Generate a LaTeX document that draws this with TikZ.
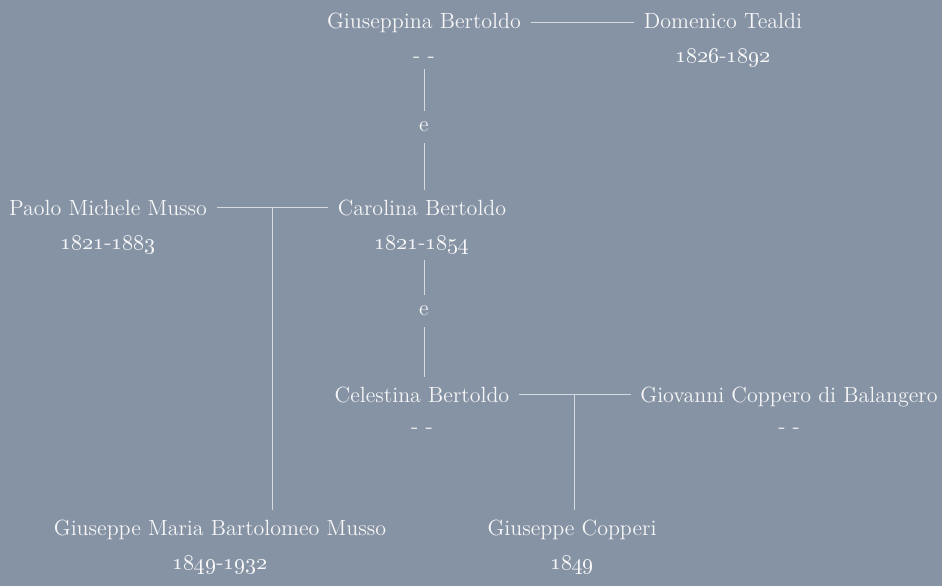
\documentclass[tikz,border=0pt]{standalone}
\usepackage{tikz}

\definecolor{bgcol}{RGB}{134,147,165}
\definecolor{txtcol}{RGB}{246,246,246}
\definecolor{linecol}{RGB}{214,219,226}
\newcommand{\yrs}[2]{\oldstylenums{#1}-\oldstylenums{#2}}

\begin{document}
\begin{tikzpicture}[x=0.5pt, y=-0.5pt,
  every node/.style={text=txtcol, font=\fontsize{11}{13}\selectfont},
  person/.style={anchor=base, outer sep=1.5pt},
  dates/.style={anchor=base},
  wed/.style={minimum height=16pt, inner sep=0pt},
  tie/.style={draw=linecol, line width=0.5pt}]
\fill[bgcol] (0,0) rectangle (942,586);
\useasboundingbox (0,0) rectangle (942,586);

\node[person] (gbert) at (424,28) {Giuseppina Bertoldo};
\node[dates] (gbertd) at (424,62) {- -};
\node[person] (dteal) at (723,28) {Domenico Tealdi};
\node[dates] (dteald) at (723,62) {\yrs{1826}{1892}};

\node[wed] (e1) at (424,127) {e};

\node[person] (pmusso) at (108,215) {Paolo Michele Musso};
\node[dates] (pmussod) at (108,249) {\yrs{1821}{1883}};
\node[person] (cbert) at (422,215) {Carolina Bertoldo};
\node[dates] (cbertd) at (422,249) {\yrs{1821}{1854}};

\node[wed] (e2) at (424,311) {e};

\node[person] (cebert) at (422,402) {Celestina Bertoldo};
\node[dates] (cebertd) at (422,433) {- -};
\node[person] (gcopp) at (789,402) {Giovanni Coppero di Balangero};
\node[dates] (gcoppd) at (789,433) {- -};

\node[person] (gmusso) at (220,535) {Giuseppe Maria Bartolomeo Musso};
\node[dates] (gmussod) at (220,569) {\yrs{1849}{1932}};
\node[person] (gcopperi) at (572,535) {Giuseppe Copperi};
\node[dates] (gcopperid) at (572,569) {\oldstylenums{1849}};

% couples
\draw[tie] (gbert.east) -- (gbert.east -| dteal.west);
\draw[tie] (pmusso.east) -- coordinate[midway] (pmc) (pmusso.east -| cbert.west);
\draw[tie] (cebert.east) -- coordinate[midway] (cgc) (cebert.east -| gcopp.west);

% descent
\draw[tie] (e1 |- gbertd.south) -- (e1) -- (e1 |- cbert.north);
\draw[tie] (e2 |- cbertd.south) -- (e2) -- (e2 |- cebert.north);
\draw[tie] (pmc) -- (pmc |- gmusso.north);
\draw[tie] (cgc) -- (cgc |- gcopperi.north);
\end{tikzpicture}
\end{document}
